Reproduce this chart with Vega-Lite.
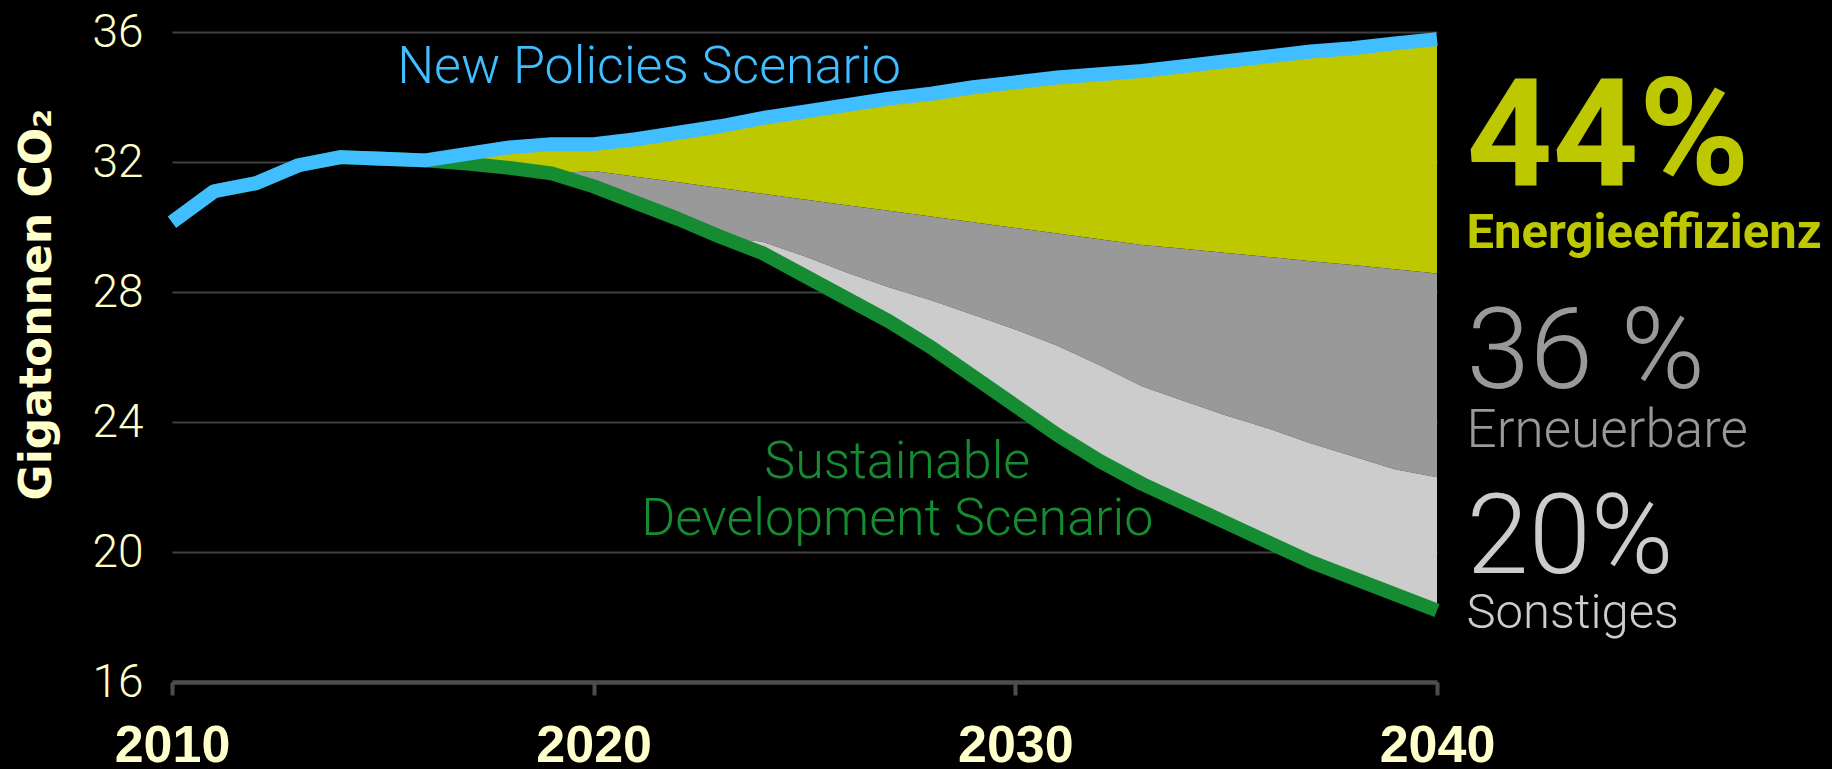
{
  "$schema": "https://vega.github.io/schema/vega-lite/v6.json",
  "autosize": "none",
  "width": 1265,
  "height": 650,
  "padding": {"left": 172, "top": 32, "right": 395, "bottom": 87},
  "background": "#000000",
  "config": {"view": {"stroke": null}, "font": "Roboto"},
  "datasets": {
    "emissions": [
      {"year": 2010, "nps": 30.15, "b1": 30.15, "b2": 30.15, "sds": 30.15},
      {"year": 2011, "nps": 31.1, "b1": 31.1, "b2": 31.1, "sds": 31.1},
      {"year": 2012, "nps": 31.35, "b1": 31.35, "b2": 31.35, "sds": 31.35},
      {"year": 2013, "nps": 31.9, "b1": 31.9, "b2": 31.9, "sds": 31.9},
      {"year": 2014, "nps": 32.15, "b1": 32.15, "b2": 32.15, "sds": 32.15},
      {"year": 2015, "nps": 32.1, "b1": 32.1, "b2": 32.1, "sds": 32.1},
      {"year": 2016, "nps": 32.05, "b1": 32.05, "b2": 32.05, "sds": 32.05},
      {"year": 2017, "nps": 32.25, "b1": 31.95, "b2": 31.95, "sds": 31.95},
      {"year": 2018, "nps": 32.45, "b1": 31.82, "b2": 31.82, "sds": 31.82},
      {"year": 2019, "nps": 32.55, "b1": 31.65, "b2": 31.65, "sds": 31.65},
      {"year": 2020, "nps": 32.55, "b1": 31.72, "b2": 31.25, "sds": 31.25},
      {"year": 2021, "nps": 32.7, "b1": 31.55, "b2": 30.75, "sds": 30.75},
      {"year": 2022, "nps": 32.9, "b1": 31.38, "b2": 30.25, "sds": 30.25},
      {"year": 2023, "nps": 33.1, "b1": 31.2, "b2": 29.7, "sds": 29.7},
      {"year": 2024, "nps": 33.35, "b1": 31.02, "b2": 29.55, "sds": 29.2},
      {"year": 2025, "nps": 33.55, "b1": 30.85, "b2": 29.1, "sds": 28.5},
      {"year": 2026, "nps": 33.75, "b1": 30.67, "b2": 28.6, "sds": 27.8},
      {"year": 2027, "nps": 33.95, "b1": 30.5, "b2": 28.15, "sds": 27.1},
      {"year": 2028, "nps": 34.1, "b1": 30.32, "b2": 27.75, "sds": 26.3},
      {"year": 2029, "nps": 34.3, "b1": 30.15, "b2": 27.3, "sds": 25.4},
      {"year": 2030, "nps": 34.45, "b1": 29.97, "b2": 26.85, "sds": 24.5},
      {"year": 2031, "nps": 34.6, "b1": 29.8, "b2": 26.35, "sds": 23.6},
      {"year": 2032, "nps": 34.7, "b1": 29.62, "b2": 25.75, "sds": 22.8},
      {"year": 2033, "nps": 34.8, "b1": 29.45, "b2": 25.1, "sds": 22.1},
      {"year": 2034, "nps": 34.95, "b1": 29.33, "b2": 24.65, "sds": 21.5},
      {"year": 2035, "nps": 35.1, "b1": 29.2, "b2": 24.2, "sds": 20.9},
      {"year": 2036, "nps": 35.25, "b1": 29.08, "b2": 23.8, "sds": 20.3},
      {"year": 2037, "nps": 35.4, "b1": 28.95, "b2": 23.35, "sds": 19.7},
      {"year": 2038, "nps": 35.5, "b1": 28.83, "b2": 22.95, "sds": 19.2},
      {"year": 2039, "nps": 35.65, "b1": 28.7, "b2": 22.55, "sds": 18.7},
      {"year": 2040, "nps": 35.78, "b1": 28.57, "b2": 22.3, "sds": 18.2}
    ]
  },
  "layer": [
    {
      "data": {"name": "emissions"},
      "mark": {"type": "area", "color": "#BDC800"},
      "encoding": {
        "x": {
          "field": "year", "type": "quantitative",
          "scale": {"domain": [2010, 2040], "nice": false, "zero": false},
          "axis": {
            "values": [2010, 2020, 2030, 2040], "format": "d", "title": null, "grid": false,
            "domainColor": "#4d4d4d", "domainWidth": 4.5,
            "tickColor": "#4d4d4d", "tickWidth": 4, "tickSize": 13,
            "labelFont": "Liberation Sans", "labelFontWeight": "bold", "labelFontSize": 52,
            "labelColor": "#FFFFCC", "labelPadding": 66, "labelBaseline": "alphabetic",
            "labelFlush": false, "labelOverlap": false
          }
        },
        "y": {
          "field": "nps", "type": "quantitative",
          "scale": {"domain": [16, 36], "nice": false, "zero": false},
          "axis": {
            "values": [16, 20, 24, 28, 32, 36], "format": "d",
            "title": "Gigatonnen CO₂", "titleFont": "DejaVu Sans", "titleFontWeight": "bold",
            "titleFontSize": 44, "titleColor": "#FFFFCC", "titleAngle": 270,
            "titleX": -122, "titleY": 272, "titleBaseline": "alphabetic", "titleAlign": "center",
            "domain": false, "ticks": false,
            "grid": true, "gridColor": "#404040", "gridWidth": 2,
            "labelFont": "Roboto", "labelFontWeight": 300, "labelFontSize": 46,
            "labelColor": "#FFFFCC", "labelPadding": 29, "labelOverlap": false
          }
        },
        "y2": {"field": "b1"}
      }
    },
    {
      "data": {"name": "emissions"},
      "mark": {"type": "area", "color": "#999999"},
      "encoding": {
        "x": {"field": "year", "type": "quantitative"},
        "y": {"field": "b1", "type": "quantitative"},
        "y2": {"field": "b2"}
      }
    },
    {
      "data": {"name": "emissions"},
      "mark": {"type": "area", "color": "#CCCCCC"},
      "encoding": {
        "x": {"field": "year", "type": "quantitative"},
        "y": {"field": "b2", "type": "quantitative"},
        "y2": {"field": "sds"}
      }
    },
    {
      "data": {"name": "emissions"},
      "mark": {"type": "line", "color": "#158C32", "strokeWidth": 14, "strokeCap": "butt", "strokeJoin": "round"},
      "encoding": {
        "x": {"field": "year", "type": "quantitative"},
        "y": {"field": "sds", "type": "quantitative"}
      }
    },
    {
      "data": {"name": "emissions"},
      "mark": {"type": "line", "color": "#40BEFF", "strokeWidth": 14, "strokeCap": "butt", "strokeJoin": "round"},
      "encoding": {
        "x": {"field": "year", "type": "quantitative"},
        "y": {"field": "nps", "type": "quantitative"}
      }
    },
    {
      "data": {"values": [{"label": "New Policies Scenario", "year": 2015.34, "value": 34.43}]},
      "mark": {"type": "text", "color": "#40BEFF", "font": "Roboto", "fontWeight": 300, "fontSize": 52, "align": "left", "baseline": "alphabetic"},
      "encoding": {
        "x": {"field": "year", "type": "quantitative"},
        "y": {"field": "value", "type": "quantitative"},
        "text": {"field": "label"}
      }
    },
    {
      "data": {"values": [
        {"label": "Sustainable", "year": 2027.2, "value": 22.28},
        {"label": "Development Scenario", "year": 2027.2, "value": 20.52}
      ]},
      "mark": {"type": "text", "color": "#158C32", "font": "Roboto", "fontWeight": 300, "fontSize": 52, "align": "center", "baseline": "alphabetic"},
      "encoding": {
        "x": {"field": "year", "type": "quantitative"},
        "y": {"field": "value", "type": "quantitative"},
        "text": {"field": "label"}
      }
    },
    {
      "data": {"values": [{"label": "44%", "year": 2040.7, "value": 31.29}]},
      "mark": {"type": "text", "color": "#BDC800", "font": "Roboto", "fontWeight": "bold", "fontSize": 150, "align": "left", "baseline": "alphabetic"},
      "encoding": {
        "x": {"field": "year", "type": "quantitative"},
        "y": {"field": "value", "type": "quantitative"},
        "text": {"field": "label"}
      }
    },
    {
      "data": {"values": [{"label": "Energieeffizienz", "year": 2040.7, "value": 29.35}]},
      "mark": {"type": "text", "color": "#BDC800", "font": "Roboto", "fontWeight": "bold", "fontSize": 49, "align": "left", "baseline": "alphabetic"},
      "encoding": {
        "x": {"field": "year", "type": "quantitative"},
        "y": {"field": "value", "type": "quantitative"},
        "text": {"field": "label"}
      }
    },
    {
      "data": {"values": [{"label": "36 %", "year": 2040.7, "value": 25.05}]},
      "mark": {"type": "text", "color": "#999999", "font": "Roboto", "fontWeight": 300, "fontSize": 114, "align": "left", "baseline": "alphabetic"},
      "encoding": {
        "x": {"field": "year", "type": "quantitative"},
        "y": {"field": "value", "type": "quantitative"},
        "text": {"field": "label"}
      }
    },
    {
      "data": {"values": [{"label": "Erneuerbare", "year": 2040.7, "value": 23.23}]},
      "mark": {"type": "text", "color": "#999999", "font": "Roboto", "fontWeight": 300, "fontSize": 53, "align": "left", "baseline": "alphabetic"},
      "encoding": {
        "x": {"field": "year", "type": "quantitative"},
        "y": {"field": "value", "type": "quantitative"},
        "text": {"field": "label"}
      }
    },
    {
      "data": {"values": [{"label": "20%", "year": 2040.7, "value": 19.35}]},
      "mark": {"type": "text", "color": "#CCCCCC", "font": "Roboto", "fontWeight": 300, "fontSize": 112, "align": "left", "baseline": "alphabetic"},
      "encoding": {
        "x": {"field": "year", "type": "quantitative"},
        "y": {"field": "value", "type": "quantitative"},
        "text": {"field": "label"}
      }
    },
    {
      "data": {"values": [{"label": "Sonstiges", "year": 2040.7, "value": 17.66}]},
      "mark": {"type": "text", "color": "#CCCCCC", "font": "Roboto", "fontWeight": 300, "fontSize": 49, "align": "left", "baseline": "alphabetic"},
      "encoding": {
        "x": {"field": "year", "type": "quantitative"},
        "y": {"field": "value", "type": "quantitative"},
        "text": {"field": "label"}
      }
    }
  ]
}
